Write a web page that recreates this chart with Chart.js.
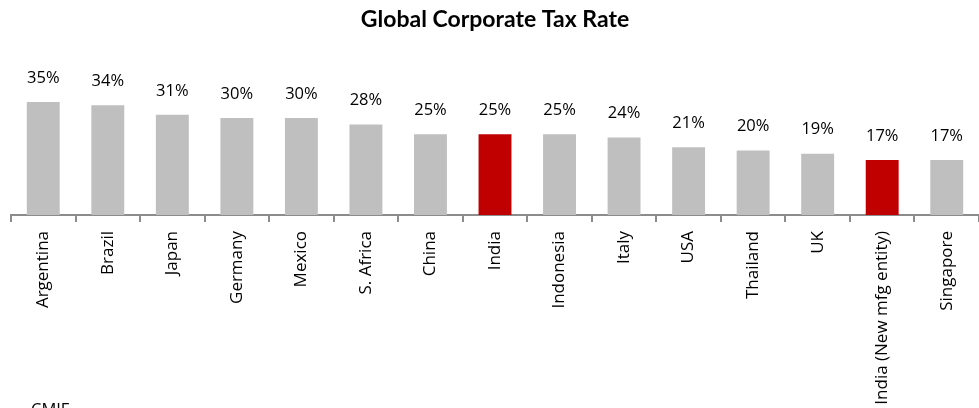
<!DOCTYPE html>
<html>
<head>
<meta charset="utf-8">
<script src="https://cdn.jsdelivr.net/npm/chart.js@4.4.0/dist/chart.umd.min.js"></script>
<style>
html,body{margin:0;padding:0;background:#fff;}
#wrap{width:979px;height:408px;position:relative;}
</style>
</head>
<body>
<div id="wrap"><canvas id="c" width="979" height="408"></canvas></div>
<script>
const categories = ["Argentina","Brazil","Japan","Germany","Mexico","S. Africa","China","India","Indonesia","Italy","USA","Thailand","UK","India (New mfg entity)","Singapore"];
const taxRates = [35, 34, 31, 30, 30, 28, 25, 25, 25, 24, 21, 20, 19, 17, 17];
const highlighted = ["India","India (New mfg entity)"];
const sourceText = "CMIE";

const GRAY = "#bfbfbf", RED = "#c00000";
const barColors = categories.map(c => highlighted.includes(c) ? RED : GRAY);

const valueLabels = {
  id: "valueLabels",
  afterDatasetsDraw(chart) {
    const ctx = chart.ctx;
    const meta = chart.getDatasetMeta(0);
    ctx.save();
    ctx.font = "16.5px 'Open Sans'";
    ctx.fillStyle = "#000";
    ctx.textAlign = "center";
    ctx.textBaseline = "middle";
    meta.data.forEach((bar, i) => {
      ctx.fillText(taxRates[i] + "%", bar.x, bar.y - 24);
    });
    ctx.textAlign = "left";
    ctx.textBaseline = "top";
    ctx.fillText(sourceText, 31, 402);
    ctx.restore();
  }
};

new Chart(document.getElementById("c"), {
  type: "bar",
  data: {
    labels: categories,
    datasets: [{
      data: taxRates,
      backgroundColor: barColors,
      borderWidth: 0,
      barPercentage: 0.51,
      categoryPercentage: 1.0
    }]
  },
  options: {
    responsive: false,
    animation: false,
    devicePixelRatio: 1,
    layout: { padding: { left: 11, right: 0, top: 0, bottom: 0 } },
    plugins: {
      legend: { display: false },
      tooltip: { enabled: false },
      title: {
        display: true,
        text: "Global Corporate Tax Rate",
        color: "#000",
        font: { family: "Lato", size: 23, weight: "bold" },
        padding: { top: 6, bottom: 52.2 }
      }
    },
    scales: {
      y: { display: false, min: 0, max: 40 },
      x: {
        offset: true,
        border: { display: true, color: "#8c8c8c", width: 2 },
        grid: { display: true, drawOnChartArea: false, drawTicks: true, tickLength: 7, color: "#8c8c8c", lineWidth: 2, offset: true },
        ticks: {
          color: "#000",
          font: { family: "Open Sans", size: 17 },
          minRotation: 90, maxRotation: 90,
          padding: 9,
          autoSkip: false
        },
        afterFit(scale) { scale.height = 193; }
      }
    }
  },
  plugins: [valueLabels]
});
</script>
</body>
</html>
